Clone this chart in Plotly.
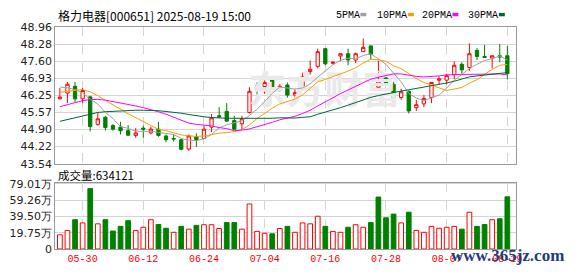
import plotly.graph_objects as go

# ---------------- data ----------------
title_text = "格力电器[000651] 2025-08-19 15:00"
vol_label = "成交量"
vol_last = 634121  # last day's volume (shares)

dates = ["05-27", "05-28", "05-29", "05-30", "06-03", "06-04", "06-05", "06-06", "06-09", "06-10",
         "06-11", "06-12", "06-13", "06-16", "06-17", "06-18", "06-19", "06-20", "06-23", "06-24",
         "06-25", "06-26", "06-27", "06-30", "07-01", "07-02", "07-03", "07-04", "07-07", "07-08",
         "07-09", "07-10", "07-11", "07-14", "07-15", "07-16", "07-17", "07-18", "07-21", "07-22",
         "07-23", "07-24", "07-25", "07-28", "07-29", "07-30", "07-31", "08-01", "08-04", "08-05",
         "08-06", "08-07", "08-08", "08-11", "08-12", "08-13", "08-14", "08-15", "08-18", "08-19"]

open_ = [46.11, 46.34, 46.61, 46.11, 46.19, 45.10, 45.38, 45.05, 44.99, 44.85,
         44.66, 44.95, 44.76, 44.91, 44.64, 44.54, 44.49, 44.12, 44.61, 44.54,
         44.99, 45.44, 45.61, 45.25, 45.12, 45.57, 46.63, 46.60, 46.90, 46.50,
         46.66, 46.26, 46.57, 47.19, 47.40, 48.10, 47.52, 47.81, 47.90, 47.65,
         47.98, 48.21, 46.57, 46.94, 46.69, 46.16, 46.41, 45.76, 45.91, 46.16,
         46.85, 46.85, 47.07, 47.48, 47.35, 48.03, 47.79, 47.73, 47.82, 47.82]
high = [46.54, 46.78, 46.78, 46.54, 46.23, 45.57, 45.44, 45.11, 45.20, 45.07,
        44.95, 45.05, 45.01, 45.20, 44.70, 44.70, 44.52, 44.70, 44.74, 45.05,
        45.51, 45.78, 45.94, 45.44, 45.44, 46.57, 46.76, 46.90, 46.94, 46.69,
        46.76, 46.49, 47.17, 47.63, 48.10, 48.12, 47.59, 47.90, 48.10, 47.94,
        48.50, 48.22, 47.63, 47.11, 46.78, 46.51, 46.44, 46.07, 46.26, 46.78,
        47.00, 47.11, 47.60, 47.56, 48.31, 48.12, 48.25, 47.83, 48.28, 48.21]
low = [46.10, 45.94, 45.97, 45.94, 44.82, 45.05, 44.85, 44.85, 44.70, 44.64,
       44.57, 44.57, 44.70, 44.61, 44.39, 44.42, 44.07, 44.04, 44.20, 44.52,
       44.79, 45.36, 45.20, 44.89, 44.91, 45.53, 46.28, 46.31, 46.41, 46.39,
       46.16, 45.98, 46.53, 47.07, 47.32, 47.44, 47.48, 47.60, 47.44, 47.52,
       47.98, 47.65, 46.57, 46.63, 46.07, 46.07, 45.53, 45.63, 45.78, 45.94,
       46.69, 46.69, 46.90, 47.11, 47.22, 47.65, 47.75, 47.32, 47.56, 46.88]
close = [46.18, 46.69, 46.11, 46.44, 45.01, 45.32, 44.97, 44.91, 44.85, 44.67,
         44.76, 44.91, 44.91, 44.66, 44.49, 44.52, 44.11, 44.64, 44.49, 44.91,
         45.36, 45.40, 45.23, 44.91, 45.32, 46.41, 46.61, 46.76, 46.50, 46.61,
         46.26, 46.36, 46.98, 47.28, 47.98, 47.50, 47.56, 47.90, 47.65, 47.90,
         48.15, 47.88, 46.82, 46.66, 46.16, 46.39, 45.63, 45.88, 46.13, 46.76,
         46.90, 47.03, 47.44, 47.26, 47.90, 47.79, 47.75, 47.82, 47.77, 47.11]

# volume in 万 (10,000 shares); last value comes from vol_last
volume = [17.2, 22.6, 35.6, 31.7, 73.4, 30.6, 35.6, 21.8, 27.5, 34.4,
          22.6, 26.4, 35.6, 29.8, 25.2, 20.3, 27.5, 24.1, 28.7, 29.5,
          29.5, 24.9, 32.1, 32.1, 24.1, 54.7, 21.4, 19.1, 18.4, 24.9,
          27.5, 20.3, 31.7, 30.6, 39.8, 27.5, 21.4, 20.3, 26.4, 29.5,
          26.4, 32.1, 63.1, 37.9, 42.4, 31.7, 44.7, 22.6, 20.3, 27.5,
          25.2, 26.4, 27.5, 24.1, 44.7, 27.5, 29.8, 35.6, 36.7, 63.41]

ma5 = [46.58, 46.55, 46.48, 46.35, 46.09, 45.91, 45.57, 45.33, 45.01, 44.94,
       44.83, 44.82, 44.82, 44.78, 44.75, 44.70, 44.54, 44.48, 44.45, 44.53,
       44.70, 44.96, 45.08, 45.16, 45.24, 45.45, 45.70, 46.00, 46.32, 46.58,
       46.55, 46.50, 46.54, 46.70, 46.97, 47.22, 47.46, 47.64, 47.72, 47.70,
       47.83, 47.90, 47.68, 47.48, 47.13, 46.78, 46.33, 46.14, 46.04, 46.16,
       46.26, 46.54, 46.85, 47.08, 47.31, 47.48, 47.63, 47.70, 47.81, 47.65]
ma10 = [46.37, 46.40, 46.44, 46.48, 46.39, 46.24, 46.05, 45.89, 45.70, 45.52,
        45.37, 45.20, 45.08, 44.90, 44.85, 44.77, 44.68, 44.65, 44.62, 44.64,
        44.70, 44.75, 44.78, 44.81, 44.89, 45.08, 45.33, 45.54, 45.74, 45.91,
        46.00, 46.10, 46.27, 46.51, 46.78, 46.88, 46.98, 47.09, 47.21, 47.34,
        47.53, 47.68, 47.66, 47.60, 47.42, 47.31, 47.11, 46.91, 46.76, 46.65,
        46.52, 46.44, 46.50, 46.56, 46.73, 46.87, 47.08, 47.28, 47.44, 47.48]
ma20 = [45.80, 45.89, 45.98, 46.04, 46.08, 46.09, 46.06, 46.01, 45.95, 45.89,
        45.83, 45.76, 45.69, 45.60, 45.50, 45.38, 45.25, 45.15, 45.10, 45.08,
        45.04, 44.97, 44.93, 44.85, 44.87, 44.92, 45.00, 45.10, 45.18, 45.28,
        45.35, 45.42, 45.53, 45.66, 45.83, 45.98, 46.15, 46.32, 46.47, 46.62,
        46.76, 46.89, 46.97, 47.05, 47.10, 47.10, 47.05, 47.00, 46.98, 46.99,
        47.02, 47.06, 47.08, 47.08, 47.08, 47.09, 47.10, 47.10, 47.10, 47.06]
ma30 = [45.22, 45.29, 45.37, 45.45, 45.52, 45.57, 45.60, 45.62, 45.64, 45.65,
        45.66, 45.66, 45.66, 45.64, 45.61, 45.58, 45.54, 45.49, 45.44, 45.40,
        45.37, 45.35, 45.34, 45.34, 45.34, 45.34, 45.33, 45.32, 45.34, 45.36,
        45.36, 45.35, 45.38, 45.40, 45.50, 45.58, 45.66, 45.76, 45.86, 45.96,
        46.08, 46.17, 46.24, 46.31, 46.36, 46.42, 46.47, 46.52, 46.57, 46.63,
        46.68, 46.74, 46.81, 46.89, 46.98, 47.02, 47.06, 47.09, 47.14, 47.15]

ma_names = ["5PMA", "10PMA", "20PMA", "30PMA"]
price_ticks = [43.54, 44.22, 44.90, 45.57, 46.25, 46.93, 47.60, 48.28, 48.96]
vol_ticks = [0, 19.75, 39.50, 59.26, 79.01]

# ---------------- layout helpers ----------------
W, H = 578, 276
def px(x):
    return x / W
def py(y):
    return 1 - y / H

RED = "#ff0000"
GREEN = "#008000"
GRID = "#d4d4d4"
BORDER = "#999999"
ma_colors = ["#a0a0a0", "#f2a100", "#ff00ff", "#006633"]

idx = list(range(len(dates)))
xr = [-0.6, len(dates) + 0.1]
label_idx = list(range(3, len(dates), 8))

fig = go.Figure()

# faint background watermark (drawn first so it sits under the candles)
fig.add_trace(go.Scatter(
    x=[xr[0] + 0.585 * (xr[1] - xr[0])],
    y=[price_ticks[0] + 0.51 * (price_ticks[-1] - price_ticks[0])],
    mode="text", text=["东方财富"],
    textfont=dict(family="Noto Sans CJK SC", size=38, color="#e9e9e9", weight="bold"),
    hoverinfo="skip", showlegend=False, xaxis="x", yaxis="y"))

fig.add_trace(go.Candlestick(
    x=idx, open=open_, high=high, low=low, close=close,
    increasing=dict(line=dict(color=RED, width=1), fillcolor="white"),
    decreasing=dict(line=dict(color=GREEN, width=1), fillcolor=GREEN),
    whiskerwidth=0, showlegend=False, xaxis="x", yaxis="y", hoverinfo="skip"))

for name, series, color in zip(ma_names, [ma5, ma10, ma20, ma30], ma_colors):
    fig.add_trace(go.Scatter(x=idx, y=series, mode="lines", name=name,
                             line=dict(color=color, width=1),
                             showlegend=False, xaxis="x", yaxis="y", hoverinfo="skip"))

vol = volume[:-1] + [vol_last / 10000]
up = [close[i] >= (close[i - 1] if i > 0 else open_[i]) for i in idx]
fig.add_trace(go.Bar(
    x=idx, y=vol, width=0.62,
    marker=dict(color=["white" if u else GREEN for u in up],
                line=dict(color=[RED if u else GREEN for u in up], width=1)),
    showlegend=False, xaxis="x2", yaxis="y2", hoverinfo="skip"))

axis_common = dict(showline=True, linecolor=BORDER, linewidth=1, mirror=True,
                   zeroline=False, fixedrange=True)
xdom = [px(56), px(522)]

fig.update_layout(
    width=W, height=H, autosize=False,
    margin=dict(l=0, r=0, t=0, b=0, pad=0),
    paper_bgcolor="white", plot_bgcolor="white",
    boxgap=0.38,
    bargap=0.3,
    xaxis=dict(domain=xdom, range=xr, anchor="y", tickvals=label_idx,
               showticklabels=False, ticks="", showgrid=True, gridcolor=GRID,
               griddash="dash", gridwidth=1, rangeslider=dict(visible=False),
               **axis_common),
    yaxis=dict(domain=[py(165.5), py(22)], range=[price_ticks[0], price_ticks[-1]],
               anchor="x", tickvals=price_ticks,
               ticktext=[f"{v:.2f}" for v in price_ticks], ticks="",
               showgrid=True, gridcolor=GRID, gridwidth=1,
               tickfont=dict(family="DejaVu Sans", size=11, color="#222222"),
               **axis_common),
    xaxis2=dict(domain=xdom, range=xr, anchor="y2", tickvals=label_idx,
                ticktext=[dates[i] for i in label_idx], ticks="",
                showgrid=True, gridcolor=GRID, griddash="dash", gridwidth=1,
                tickfont=dict(family="Liberation Mono", size=10, color=RED),
                **axis_common),
    yaxis2=dict(domain=[py(255), py(185.5)], range=[0, 80.5], anchor="x2",
                tickvals=vol_ticks,
                ticktext=[("0" if v == 0 else f"{v:.2f}万") for v in vol_ticks],
                ticks="", showgrid=True, gridcolor=GRID, gridwidth=1,
                tickfont=dict(family="DejaVu Sans", size=11, color="#222222"),
                **axis_common),
)

annotations = [
    dict(text=title_text, x=px(57), y=py(9.5), xref="paper", yref="paper",
         xanchor="left", yanchor="middle", showarrow=False,
         font=dict(family="Noto Sans CJK SC", size=12, color="#000000")),
    dict(text=f"{vol_label}:{vol_last}", x=px(57), y=py(177.5), xref="paper", yref="paper",
         xanchor="left", yanchor="middle", showarrow=False,
         font=dict(family="Noto Sans CJK SC", size=11.5, color="#000000")),
    dict(text="www.365jz.com", x=px(514), y=py(261.5), xref="paper", yref="paper",
         xanchor="center", yanchor="middle", showarrow=False,
         font=dict(family="Liberation Serif", size=17, color="#1f3c7c", weight="bold")),
]
shapes = []
legend_x = [338, 380, 425, 472]
for name, color, lx in zip(ma_names, ma_colors, legend_x):
    annotations.append(dict(text=name, x=px(lx), y=py(9.5), xref="paper", yref="paper",
                            xanchor="left", yanchor="middle", showarrow=False,
                            font=dict(family="Liberation Mono", size=10, color="#000000")))
    sx = lx + 6.2 * len(name) + 2
    shapes.append(dict(type="rect", xref="paper", yref="paper",
                       x0=px(sx), x1=px(sx + 6), y0=py(10.8), y1=py(7.2),
                       fillcolor=color, line=dict(width=0)))

fig.update_layout(annotations=annotations, shapes=shapes)

fig.write_html("out.html")
